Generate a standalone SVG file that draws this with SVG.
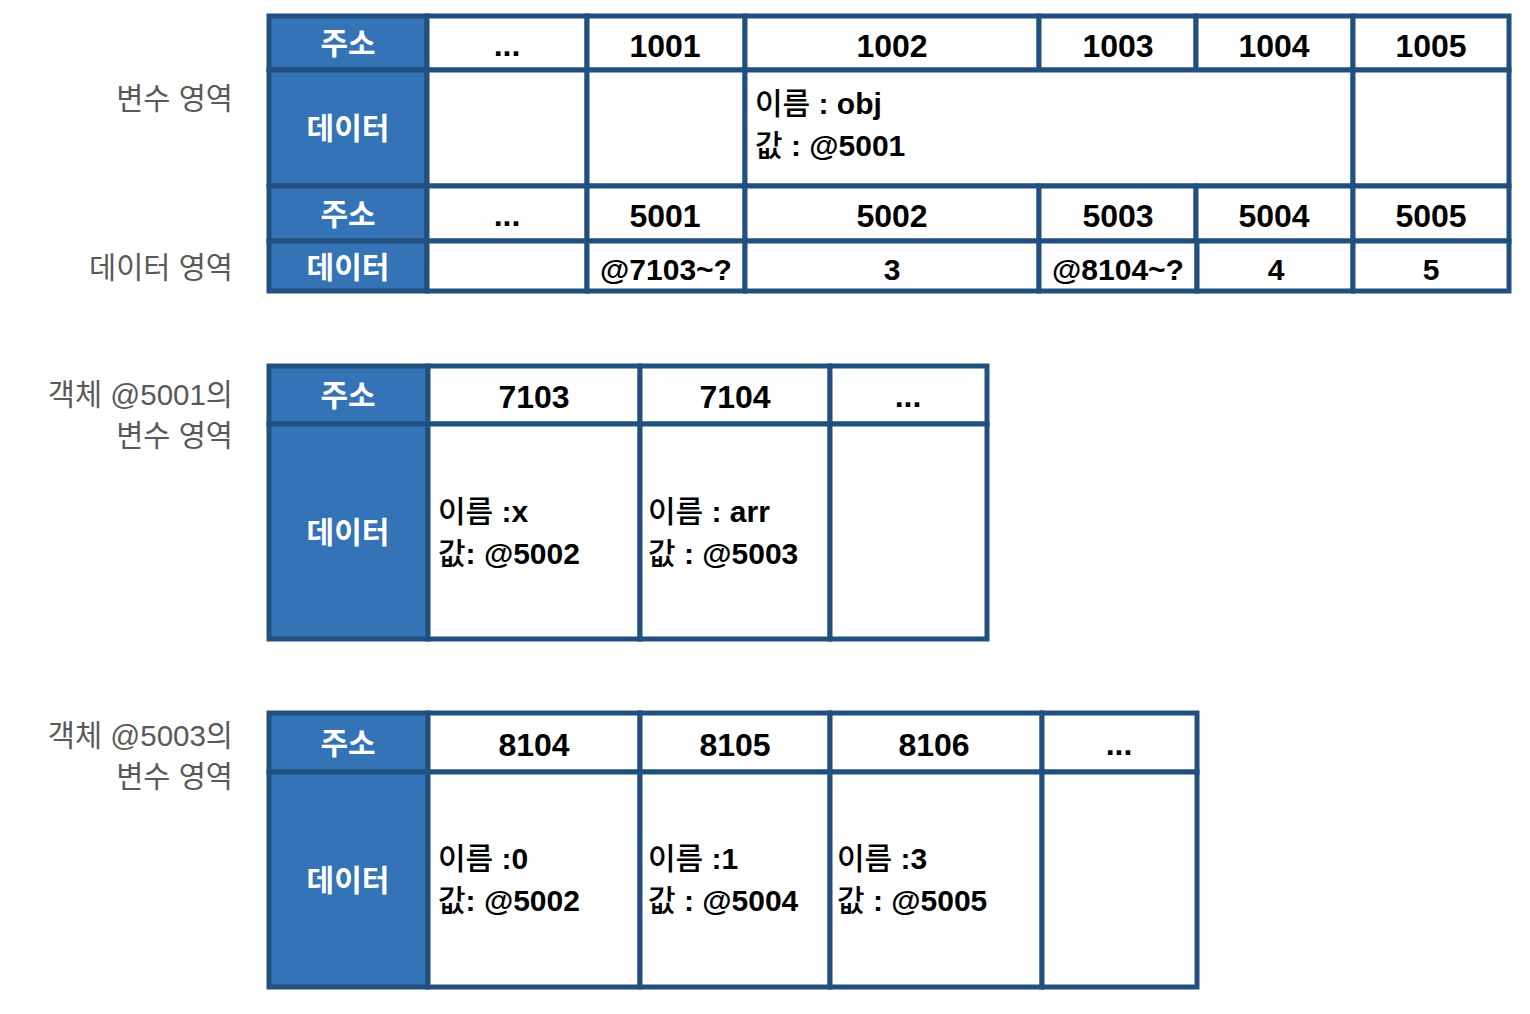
<svg xmlns="http://www.w3.org/2000/svg" width="1530" height="1014" viewBox="0 0 1530 1014">
<style>
  .bg{fill:#ffffff}
  .cell{fill:#ffffff;stroke:#21507f;stroke-width:5}
  .hdr{fill:#3373b6;stroke:#21507f;stroke-width:5}
  .ht{font-family:"Noto Sans CJK KR","Liberation Sans",sans-serif;font-weight:bold;font-size:30px;fill:#ffffff;text-anchor:middle}
  .num{font-family:"Liberation Sans","Noto Sans CJK KR",sans-serif;font-weight:bold;font-size:32px;fill:#000000;text-anchor:middle}
  .val{font-family:"Liberation Sans","Noto Sans CJK KR",sans-serif;font-weight:bold;font-size:30px;fill:#000000;text-anchor:middle}
  .dt{font-family:"Liberation Sans","Noto Sans CJK KR",sans-serif;font-weight:bold;font-size:30px;fill:#000000}
  .ko{font-family:"Noto Sans CJK KR",sans-serif;font-weight:500}
  .lbl{font-family:"Liberation Sans","Noto Sans CJK KR",sans-serif;font-size:29.5px;fill:#595959;text-anchor:end}
</style>
<rect class="bg" x="0" y="0" width="1530" height="1014"/>

<!-- Left labels -->
<g id="label-var-area"><text class="lbl" x="233" y="109">변수 영역</text></g>
<g id="label-data-area"><text class="lbl" x="233" y="278">데이터 영역</text></g>
<g id="label-obj5001"><text class="lbl" x="233" y="405">객체 @5001의</text><text class="lbl" x="233" y="446">변수 영역</text></g>
<g id="label-obj5003"><text class="lbl" x="233" y="746">객체 @5003의</text><text class="lbl" x="233" y="787">변수 영역</text></g>

<!-- Table 1 -->
<g id="table1">
  <g id="t1-addr-hdr"><rect class="hdr" x="269" y="16" width="158" height="54"/><text class="ht" x="348" y="54">주소</text></g>
  <g id="t1-a-dots"><rect class="cell" x="427" y="16" width="160" height="54"/><text class="num" x="507" y="56">...</text></g>
  <g id="t1-a-1001"><rect class="cell" x="587" y="16" width="158" height="54"/><text class="num" x="665" y="57">1001</text></g>
  <g id="t1-a-1002"><rect class="cell" x="745" y="16" width="294" height="54"/><text class="num" x="892" y="57">1002</text></g>
  <g id="t1-a-1003"><rect class="cell" x="1039" y="16" width="157" height="54"/><text class="num" x="1118" y="57">1003</text></g>
  <g id="t1-a-1004"><rect class="cell" x="1196" y="16" width="157" height="54"/><text class="num" x="1274" y="57">1004</text></g>
  <g id="t1-a-1005"><rect class="cell" x="1353" y="16" width="156" height="54"/><text class="num" x="1431" y="57">1005</text></g>

  <g id="t1-data-hdr"><rect class="hdr" x="269" y="70" width="158" height="116"/><text class="ht" x="348" y="139">데이터</text></g>
  <g id="t1-d-dots"><rect class="cell" x="427" y="70" width="160" height="116"/></g>
  <g id="t1-d-1001"><rect class="cell" x="587" y="70" width="158" height="116"/></g>
  <g id="t1-d-1002"><rect class="cell" x="745" y="70" width="608" height="116"/><text class="dt" x="755" y="114"><tspan class="ko">이름</tspan> : obj</text><text class="dt" x="755" y="156"><tspan class="ko">값</tspan> : @5001</text></g>
  <g id="t1-d-1005"><rect class="cell" x="1353" y="70" width="156" height="116"/></g>

  <g id="t1-addr2-hdr"><rect class="hdr" x="269" y="186" width="158" height="55"/><text class="ht" x="348" y="225">주소</text></g>
  <g id="t1-b-dots"><rect class="cell" x="427" y="186" width="160" height="55"/><text class="num" x="507" y="226">...</text></g>
  <g id="t1-b-5001"><rect class="cell" x="587" y="186" width="158" height="55"/><text class="num" x="665" y="227">5001</text></g>
  <g id="t1-b-5002"><rect class="cell" x="745" y="186" width="294" height="55"/><text class="num" x="892" y="227">5002</text></g>
  <g id="t1-b-5003"><rect class="cell" x="1039" y="186" width="157" height="55"/><text class="num" x="1118" y="227">5003</text></g>
  <g id="t1-b-5004"><rect class="cell" x="1196" y="186" width="157" height="55"/><text class="num" x="1274" y="227">5004</text></g>
  <g id="t1-b-5005"><rect class="cell" x="1353" y="186" width="156" height="55"/><text class="num" x="1431" y="227">5005</text></g>

  <g id="t1-data2-hdr"><rect class="hdr" x="269" y="241" width="158" height="50"/><text class="ht" x="348" y="278">데이터</text></g>
  <g id="t1-e-dots"><rect class="cell" x="427" y="241" width="160" height="50"/></g>
  <g id="t1-e-5001"><rect class="cell" x="587" y="241" width="158" height="50"/><text class="val" x="666" y="280">@7103~?</text></g>
  <g id="t1-e-5002"><rect class="cell" x="745" y="241" width="294" height="50"/><text class="val" x="892" y="280">3</text></g>
  <g id="t1-e-5003"><rect class="cell" x="1039" y="241" width="158" height="50"/><text class="val" x="1118" y="280">@8104~?</text></g>
  <g id="t1-e-5004"><rect class="cell" x="1197" y="241" width="156" height="50"/><text class="val" x="1276" y="280">4</text></g>
  <g id="t1-e-5005"><rect class="cell" x="1353" y="241" width="156" height="50"/><text class="val" x="1431" y="280">5</text></g>
</g>

<!-- Table 2 -->
<g id="table2">
  <g id="t2-addr-hdr"><rect class="hdr" x="269" y="366" width="159" height="58"/><text class="ht" x="348" y="406">주소</text></g>
  <g id="t2-a-7103"><rect class="cell" x="428" y="366" width="212" height="58"/><text class="num" x="534" y="408">7103</text></g>
  <g id="t2-a-7104"><rect class="cell" x="640" y="366" width="190" height="58"/><text class="num" x="735" y="408">7104</text></g>
  <g id="t2-a-dots"><rect class="cell" x="830" y="366" width="157" height="58"/><text class="num" x="908" y="407">...</text></g>

  <g id="t2-data-hdr"><rect class="hdr" x="269" y="424" width="159" height="215"/><text class="ht" x="348" y="543">데이터</text></g>
  <g id="t2-d-7103"><rect class="cell" x="428" y="424" width="212" height="215"/><text class="dt" x="438" y="522"><tspan class="ko">이름</tspan> :x</text><text class="dt" x="438" y="564"><tspan class="ko">값</tspan>: @5002</text></g>
  <g id="t2-d-7104"><rect class="cell" x="640" y="424" width="190" height="215"/><text class="dt" x="648" y="522"><tspan class="ko">이름</tspan> : arr</text><text class="dt" x="648" y="564"><tspan class="ko">값</tspan> : @5003</text></g>
  <g id="t2-d-dots"><rect class="cell" x="830" y="424" width="157" height="215"/></g>
</g>

<!-- Table 3 -->
<g id="table3">
  <g id="t3-addr-hdr"><rect class="hdr" x="269" y="713" width="159" height="59"/><text class="ht" x="348" y="754">주소</text></g>
  <g id="t3-a-8104"><rect class="cell" x="428" y="713" width="212" height="59"/><text class="num" x="534" y="756">8104</text></g>
  <g id="t3-a-8105"><rect class="cell" x="640" y="713" width="190" height="59"/><text class="num" x="735" y="756">8105</text></g>
  <g id="t3-a-8106"><rect class="cell" x="830" y="713" width="212" height="59"/><text class="num" x="934" y="756">8106</text></g>
  <g id="t3-a-dots"><rect class="cell" x="1042" y="713" width="155" height="59"/><text class="num" x="1119" y="755">...</text></g>

  <g id="t3-data-hdr"><rect class="hdr" x="269" y="772" width="159" height="215"/><text class="ht" x="348" y="891">데이터</text></g>
  <g id="t3-d-8104"><rect class="cell" x="428" y="772" width="212" height="215"/><text class="dt" x="438" y="869"><tspan class="ko">이름</tspan> :0</text><text class="dt" x="438" y="911"><tspan class="ko">값</tspan>: @5002</text></g>
  <g id="t3-d-8105"><rect class="cell" x="640" y="772" width="190" height="215"/><text class="dt" x="648" y="869"><tspan class="ko">이름</tspan> :1</text><text class="dt" x="648" y="911"><tspan class="ko">값</tspan> : @5004</text></g>
  <g id="t3-d-8106"><rect class="cell" x="830" y="772" width="212" height="215"/><text class="dt" x="837" y="869"><tspan class="ko">이름</tspan> :3</text><text class="dt" x="837" y="911"><tspan class="ko">값</tspan> : @5005</text></g>
  <g id="t3-d-dots"><rect class="cell" x="1042" y="772" width="155" height="215"/></g>
</g>

<g id="connectors"></g>
</svg>
